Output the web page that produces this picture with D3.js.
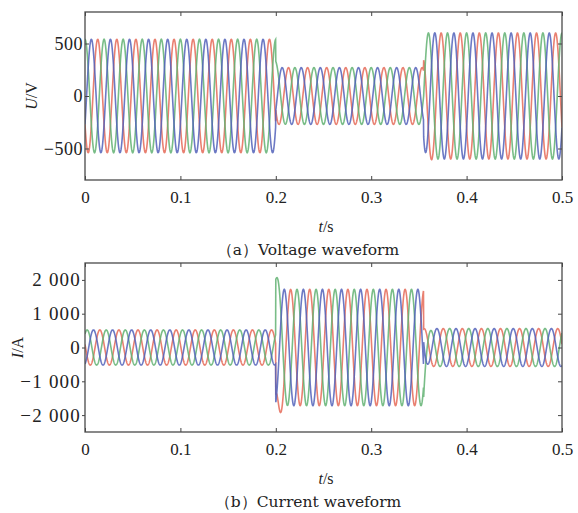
<!DOCTYPE html>
<html>
<head>
<meta charset="utf-8">
<script src="https://cdn.jsdelivr.net/npm/d3@7"></script>
<style>
  body { margin: 0; background: #fff; }
  svg { display: block; }
  text { font-family: "Liberation Serif", "DejaVu Serif", serif; fill: #222; }
</style>
</head>
<body>
<svg id="chart" width="578" height="513"></svg>
<script>
// values
const timeTicks = [0, 0.1, 0.2, 0.3, 0.4, 0.5];
const voltTicks = [-500, 0, 500];
const currTicks = [-2000, -1000, 0, 1000, 2000];
const phaseNames = ["A", "B", "C"];
const freqHz = 50;
const switchTimes = [0, 0.2, 0.355];
const voltAmp = [540, 270, 600];
const currAmp = [520, 1720, 560];
const phaseShift = [120, 0, -120]; // deg, per phase
const currLag = -40; // deg
// short transient kick per segment, per phase (decays after switching)
const voltKick = [[0, 0, 0], [0, 60, 0], [-180, 0, 130]];
const currKick = [[0, 0, 0], [-1700, 700, 0], [0, -1100, 350]];
const kickTau = 0.0025;

const colors = ["#e56a58", "#62b272", "#5261ba"];

const svg = d3.select("#chart");

function segIndex(t) {
  let k = 0;
  switchTimes.forEach((s, i) => { if (t >= s) k = i; });
  return k;
}

function wave(amp, kick, lag) {
  const dt = 0.0002;
  const n = Math.round(0.5 / dt);
  return phaseNames.map((name, p) => {
    const pts = [];
    for (let i = 0; i <= n; i++) {
      const t = i * dt;
      const k = segIndex(t);
      const ang = 2 * Math.PI * freqHz * t + (phaseShift[p] + lag) * Math.PI / 180;
      const v = amp[k] * Math.cos(ang) + kick[k][p] * Math.exp(-(t - switchTimes[k]) / kickTau);
      pts.push([t, v]);
    }
    return { name, pts };
  });
}

function panel(opts) {
  const { top, bottom, domain, ticks, series, yLabel, yLabelX, labelEnd,
          leftTick, yFont, ySpacing, caption, id } = opts;
  const left = 85, right = 562;
  const x = d3.scaleLinear().domain([0, 0.5]).range([left, right]);
  const y = d3.scaleLinear().domain(domain).range([bottom, top]);
  const g = svg.append("g");

  g.append("clipPath").attr("id", id).append("rect")
    .attr("x", left).attr("y", top).attr("width", right - left).attr("height", bottom - top);

  const line = d3.line().x(d => x(d[0])).y(d => y(d[1]));
  g.append("g").attr("clip-path", `url(#${id})`)
    .selectAll("path").data(series).join("path")
    .attr("d", d => line(d.pts))
    .attr("fill", "none")
    .attr("stroke", (d, i) => colors[i])
    .attr("stroke-width", 1.6)
    .attr("stroke-opacity", 0.85);

  const fmt = v => {
    const s = Math.abs(v) >= 1000 ? d3.format(",")(Math.abs(v)).replace(",", " ") : String(Math.abs(v));
    return (v < 0 ? "\u2212" : "") + s;
  };

  const axStyle = sel => {
    sel.select(".domain").remove();
    sel.selectAll(".tick line").attr("stroke", "#444");
    sel.selectAll(".tick text").style("font-size", "17px").attr("fill", "#222");
  };

  g.append("g").attr("transform", `translate(0,${bottom})`)
    .call(d3.axisBottom(x).tickValues(timeTicks).tickSize(-4).tickPadding(11).tickFormat(d => d))
    .call(axStyle);
  g.append("g").attr("transform", `translate(0,${top})`)
    .call(d3.axisTop(x).tickValues(timeTicks).tickSize(-4).tickFormat(""))
    .call(axStyle);
  const pad = leftTick > 0 ? left - labelEnd - leftTick : left - labelEnd + leftTick;
  g.append("g").attr("transform", `translate(${left},0)`)
    .call(d3.axisLeft(y).tickValues(ticks).tickSize(leftTick).tickPadding(pad).tickFormat(fmt))
    .call(axStyle)
    .call(sel => sel.selectAll(".tick text")
      .style("font-size", yFont + "px")
      .style("letter-spacing", ySpacing + "px"));
  g.append("g").attr("transform", `translate(${right},0)`)
    .call(d3.axisRight(y).tickValues(ticks).tickSize(-4).tickFormat(""))
    .call(axStyle);

  g.append("rect")
    .attr("x", left).attr("y", top).attr("width", right - left).attr("height", bottom - top)
    .attr("fill", "none").attr("stroke", "#4a4a4a").attr("stroke-width", 1.3);

  const yl = g.append("text")
    .attr("transform", `translate(${yLabelX},${(top + bottom) / 2}) rotate(-90)`)
    .attr("text-anchor", "middle").style("font-size", "16px");
  yl.append("tspan").style("font-style", "italic").text(yLabel[0]);
  yl.append("tspan").text("/" + yLabel[1]);

  const tl = g.append("text")
    .attr("x", 326).attr("y", bottom + 52)
    .attr("text-anchor", "middle").style("font-size", "16px");
  tl.append("tspan").style("font-style", "italic").text("t");
  tl.append("tspan").text("/s");

  g.append("text")
    .attr("x", 308).attr("y", bottom + 75)
    .attr("text-anchor", "middle")
    .style("font-family", "'DejaVu Serif', serif")
    .style("font-size", "15.5px")
    .text(caption);
}

panel({
  id: "clipA", top: 12, bottom: 180, domain: [-800, 800], ticks: voltTicks,
  series: wave(voltAmp, voltKick, 0), yLabel: ["U", "V"], yLabelX: 37, labelEnd: 79,
  leftTick: -4, yFont: 18, ySpacing: 0.5,
  caption: "\uff08a\uff09Voltage waveform"
});
panel({
  id: "clipB", top: 263, bottom: 432, domain: [-2500, 2500], ticks: currTicks,
  series: wave(currAmp, currKick, currLag), yLabel: ["I", "A"], yLabelX: 23, labelEnd: 81,
  leftTick: 3, yFont: 19, ySpacing: 1.2,
  caption: "\uff08b\uff09Current waveform"
});
</script>
</body>
</html>
